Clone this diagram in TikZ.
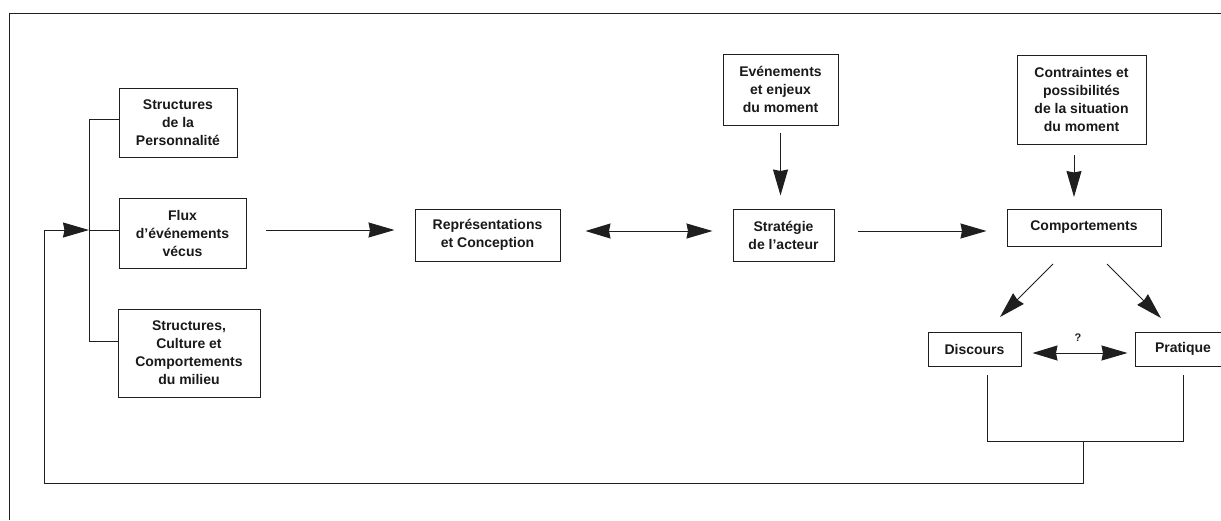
\documentclass[tikz,border=0pt]{standalone}
\usepackage{fontspec}
\setmainfont{Liberation Sans}
\usetikzlibrary{arrows.meta}
\begin{document}
\begin{tikzpicture}[x=1pt,y=-1pt,
  box/.style={draw=black!88, line width=1pt, inner sep=0pt, align=center,
    font=\fontsize{14}{18}\selectfont\bfseries, text=black!90},
  ln/.style={draw=black!88, line width=1pt},
  arr/.style={ln, -{Stealth[length=26pt,width=15pt,inset=1.5pt]}},
  darr/.style={ln, {Stealth[length=25pt,width=15pt,inset=1.5pt]}-{Stealth[length=26pt,width=15pt,inset=1.5pt]}}]
\useasboundingbox (0,0) rectangle (1221,520);
\clip (0,0) rectangle (1221,520);

% frame
\coordinate (f1) at (9,520);
\coordinate (f2) at (9,13);
\coordinate (f3) at (1221,13);
\draw[ln] (f1) -- (f2) -- (f3);

% nodes
\node[box, minimum width=118pt, minimum height=69pt] (pers) at (178,122.5) {Structures\\de la\\Personnalité};
\node[box, minimum width=127pt, minimum height=70pt] (flux) at (182.5,233) {Flux\\d'événements\\vécus};
\node[box, minimum width=142pt, minimum height=88pt] (mil) at (189,353) {Structures,\\Culture et\\Comportements\\du milieu};
\node[box, minimum width=145pt, minimum height=52pt] (repr) at (487.5,235) {Représentations\\et Conception};
\node[box, minimum width=101pt, minimum height=52pt] (strat) at (783.5,235) {Stratégie\\de l'acteur};
\node[box, minimum width=115pt, minimum height=71pt] (even) at (780.5,89.5) {Evénements\\et enjeux\\du moment};
\node[box, minimum width=129pt, minimum height=89pt] (contr) at (1081.5,99.5) {Contraintes et\\possibilités\\de la situation\\du moment};
\node[box, minimum width=154pt, minimum height=37pt] (comp) at (1084,227.5) {Comportements};
\node[box, minimum width=93pt, minimum height=34pt] (disc) at (974.5,349) {Discours};
\node[box, minimum width=96pt, minimum height=34pt] (prat) at (1183,349) {Pratique};
\node[font=\fontsize{11}{13}\selectfont\bfseries, text=black!88, inner sep=0pt] (q) at (1078,338) {?};

% left bracket
\coordinate (bt) at (89,119);
\coordinate (bb) at (89,341);
\coordinate (bm) at (89,230);
\draw[ln] (pers.west |- bt) -- (bt) -- (bb) -- (mil.west |- bb);
\draw[ln] (bm) -- (flux.west |- bm);

% main chain
\draw[arr, shorten <=19pt, shorten >=20pt] (flux.east |- bm) -- (repr.west |- bm);
\draw[darr, shorten <=25pt, shorten >=20pt] ([yshift=4pt]repr.east) -- ([yshift=4pt]strat.west);
\draw[arr, shorten <=23pt, shorten >=20pt] ([yshift=4pt]strat.east) -- ([yshift=4pt]strat.east -| comp.west);
\draw[arr, shorten <=7pt, shorten >=13pt] (even.south) -- (strat.north -| even.south);
\coordinate (ca) at (1074,144);
\coordinate (cb) at (1074,209);
\draw[arr, shorten <=11pt, shorten >=12pt] (ca) -- (cb);

% comportements split
\coordinate (d1) at (1053,264);
\coordinate (d2) at (1000,317);
\coordinate (p1) at (1107,264);
\coordinate (p2) at (1161,318);
\draw[arr] (d1) -- (d2);
\draw[arr] (p1) -- (p2);
\draw[darr, shorten <=11pt, shorten >=7pt] ([yshift=-4pt]disc.east) -- ([yshift=-4pt]prat.west);

% feedback loop
\coordinate (l1) at (987,375);
\coordinate (l2) at (987,441);
\coordinate (l3) at (1183,441);
\coordinate (l4) at (1183,375);
\coordinate (m1) at (1083,441);
\coordinate (m2) at (1083,483);
\coordinate (m3) at (44,483);
\coordinate (m4) at (44,230);
\draw[ln] (l1) -- (l2) -- (l3) -- (l4);
\draw[ln] (m1) -- (m2) -- (m3) -- (m4);
\draw[arr] (m4) -- (bm);
\end{tikzpicture}
\end{document}
